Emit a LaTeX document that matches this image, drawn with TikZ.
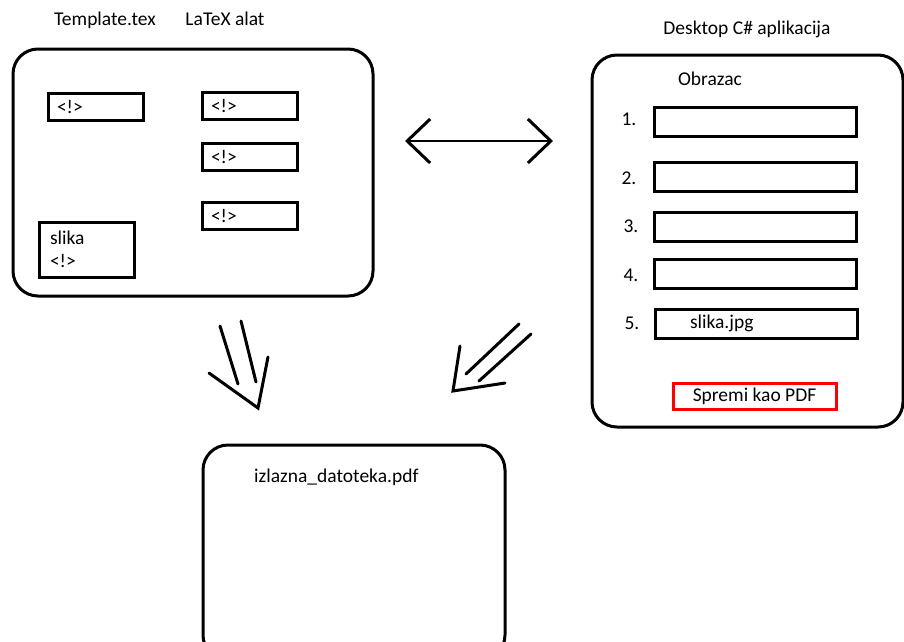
\documentclass[tikz,border=0pt]{standalone}
\usepackage{fontspec}
\setmainfont{Carlito}
\usetikzlibrary{arrows.meta}
\tikzset{
  bigbox/.style={draw, line width=3pt, rounded corners=25pt},
  field/.style={draw, line width=3pt, inner xsep=9pt, inner ysep=0pt, align=left},
  caption/.style={inner sep=0pt},
  barb/.style={line width=2.5pt, {Straight Barb[length=23pt,width=44pt,line width=3pt]}-{Straight Barb[length=23pt,width=44pt,line width=3pt]}}
}
\begin{document}
\begin{tikzpicture}[x=1pt, y=-1pt, font=\fontsize{19.5}{22}\selectfont]
					\useasboundingbox (0,0) rectangle (904,641);
					\clip (0,0) rectangle (904,641);
					% Template
					\node[caption] (tmplname) at (105,20) {Template.tex};
					\node[caption] (toolname) at (225,19) {LaTeX alat};
					\node[bigbox, minimum width=360pt, minimum height=247pt] (tmpl) at (193,172.5) {};
					\node[field, text width=77pt, minimum height=27pt] (tag1) at (95.5,106.5) {<!>};
					\foreach \n/\y in {2/105.5,3/156.5,4/215.5}
						\node[field, text width=77pt, minimum height=27pt] (tag\n) at (249.5,\y) {<!>};
					\node[field, text width=73pt, minimum height=55pt, inner xsep=11pt, font=\fontsize{19.5}{23}\selectfont] (img) at (86.5,249.5) {slika\\<!>};
					% Desktop aplikacija
					\node[caption] (appname) at (747,29) {Desktop C\# aplikacija};
					\node[bigbox, minimum width=311pt, minimum height=372pt] (app) at (747.5,241) {};
					\node[caption] (formname) at (710,79) {Obrazac};
					\foreach \n/\y/\lx/\ly in {1/121.5/629/119,2/176.5/629/178,3/226.5/631/226,4/273.5/631/275}{
						\node[field, text width=184pt, minimum height=29pt] (f\n) at (755,\y) {};
						\node[caption] (n\n) at (\lx,\ly) {\n.};}
					\node[field, text width=184pt, minimum height=29pt] (f5) at (756,323.5) {\hspace*{26pt}slika.jpg};
					\node[caption] (n5) at (632,323) {5.};
					\node[draw=red, line width=3pt, minimum width=163pt, minimum height=26pt, inner sep=0pt] (save) at (754.5,396) {Spremi kao PDF};
					% Izlaz
					\node[bigbox, minimum width=302pt, minimum height=215pt] (out) at (354,552.5) {};
					\node[caption, anchor=west] (outname) at (254,477) {izlazna\_datoteka.pdf};
					% Strelice
					\coordinate (l) at (405,141);
					\coordinate (r) at (553,141);
					\draw[barb] (l) -- (r);
					\draw[line width=3pt, line cap=round] (220,326) -- (238,384) (241,321) -- (256,382);
					\draw[line width=3pt, line cap=round] (209,373) -- (258,408) -- (268,357);
					\draw[line width=3pt, line cap=round] (519,324) -- (466,374) (531,334) -- (479,381);
					\draw[line width=3pt, line cap=round] (460,346) -- (453,391) -- (505,383);
\end{tikzpicture}
\end{document}
